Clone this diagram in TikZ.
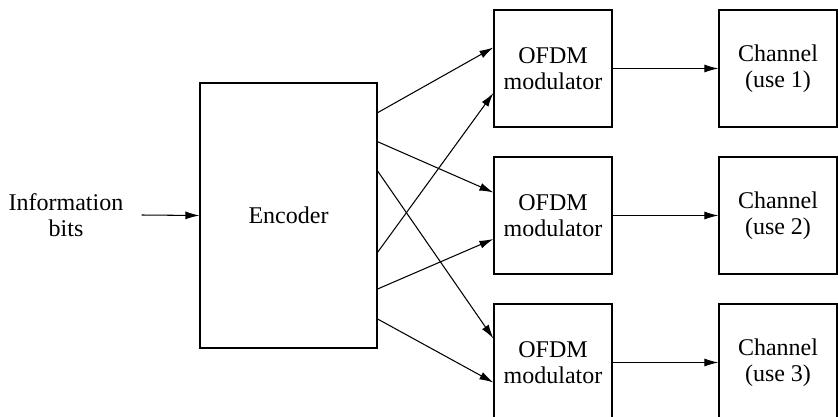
\documentclass[tikz,border=0pt]{standalone}
\usepackage{fontspec}
\setmainfont{Liberation Serif}
\usetikzlibrary{arrows.meta}
\begin{document}
\begin{tikzpicture}[x=1pt,y=-1pt,
  blk/.style={draw, line width=1.2pt, inner sep=0pt, align=center,
    font=\fontsize{24}{26.5}\selectfont},
  mod/.style={blk, minimum width=118pt, minimum height=117pt},
  lbl/.style={align=center, font=\fontsize{24}{26.5}\selectfont, inner sep=0pt},
  arr/.style={-{Latex[length=14pt,width=8pt]}, line width=1.05pt}]
\clip (0,0) rectangle (838,417);
\node[blk, minimum width=177pt, minimum height=265pt] (enc) at (288.5,215.5) {Encoder};
\node[lbl] (info) at (66,215) {Information\\bits};
\node[mod] (m1) at (553,68.5) {OFDM\\modulator};
\node[mod] (m2) at (553,215.5) {OFDM\\modulator};
\node[mod] (m3) at (553,362.5) {OFDM\\modulator};
\node[mod] (c1) at (778,68.5) {Channel\\(use 1)};
\node[mod] (c2) at (778,215.5) {Channel\\(use 2)};
\node[mod] (c3) at (778,362.5) {Channel\\(use 3)};
\draw[arr] ([xshift=18pt]info.east) -- (enc.west);
\draw[arr] ([yshift=102.8pt]enc.east) -- ([yshift=21pt]m1.west);
\draw[arr] ([yshift=73.8pt]enc.east) -- ([yshift=23pt]m2.west);
\draw[arr] ([yshift=44.5pt]enc.east) -- ([yshift=24pt]m3.west);
\draw[arr] ([yshift=-36.8pt]enc.east) -- ([yshift=-24.5pt]m1.west);
\draw[arr] ([yshift=-73.5pt]enc.east) -- ([yshift=-23.5pt]m2.west);
\draw[arr] ([yshift=-103.5pt]enc.east) -- ([yshift=-20pt]m3.west);
\draw[arr] (m1.east) -- (c1.west);
\draw[arr] (m2.east) -- (c2.west);
\draw[arr] (m3.east) -- (c3.west);
\end{tikzpicture}
\end{document}
